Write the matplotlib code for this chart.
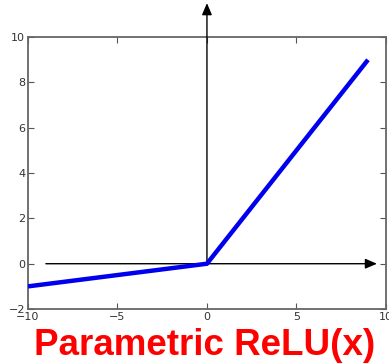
import matplotlib
matplotlib.use("Agg")
import matplotlib.pyplot as plt
import numpy as np

# Parametric ReLU: f(x) = x for x >= 0, a*x otherwise
alpha = 0.1
x_knots = [-10, 0, 9]
y_knots = [alpha * v if v < 0 else v for v in x_knots]

x_ticks = [-10, -5, 0, 5, 10]
x_ticklabels = ["\u221210", "\u22125", "0", "5", "10"]
y_ticks = [-2, 0, 2, 4, 6, 8, 10]
y_ticklabels = ["\u22122", "0", "2", "4", "6", "8", "10"]

fig = plt.figure(figsize=(3.89, 3.64), dpi=100)
ax = fig.add_axes([0.072, 0.151, 0.92, 0.747])
ax.set_xlim(-10, 10)
ax.set_ylim(-2, 10)

# coordinate axes drawn as arrows
ax.annotate("", xy=(9.5, 0), xytext=(-9, 0), annotation_clip=False,
            arrowprops=dict(arrowstyle="-|>,head_length=0.7,head_width=0.3",
                            color="black", lw=1, shrinkA=0, shrinkB=0))
ax.annotate("", xy=(0, 11.5), xytext=(0, 0), annotation_clip=False,
            arrowprops=dict(arrowstyle="-|>,head_length=0.7,head_width=0.3",
                            color="black", lw=1, shrinkA=0, shrinkB=0))

ax.plot(x_knots, y_knots, color="#0000ee", lw=3.2, solid_capstyle="butt", zorder=3)

ax.set_xticks(x_ticks)
ax.set_xticklabels(x_ticklabels)
ax.set_yticks(y_ticks)
ax.set_yticklabels(y_ticklabels)
ax.tick_params(direction="in", top=True, right=True, length=4, width=0.8,
               colors="#555555", labelsize=8, labelcolor="#333333", pad=2)
for s in ax.spines.values():
    s.set_color("#666666")
    s.set_linewidth(1.3)

fig.text(0.527, 0.002, "Parametric ReLU(x)", ha="center", va="bottom",
         color="#ff0000", fontsize=26.5, fontweight="bold", family="Liberation Sans")

fig.savefig("out.png", dpi=100)
